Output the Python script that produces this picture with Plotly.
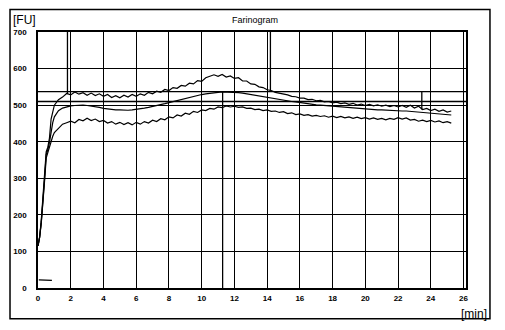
import plotly.graph_objects as go

# ---- data ----
time_min = [0, 0.1, 0.2, 0.3, 0.4, 0.5, 0.6, 0.7, 0.8, 0.9,
            1.0, 1.25, 1.5, 1.75, 2.0, 2.25, 2.5, 2.75, 3.0, 3.25, 3.5, 3.75,
            4.0, 4.25, 4.5, 4.75, 5.0, 5.25, 5.5, 5.75, 6.0, 6.25, 6.5, 6.75,
            7.0, 7.25, 7.5, 7.75, 8.0, 8.25, 8.5, 8.75, 9.0, 9.25, 9.5, 9.75,
            10.0, 10.25, 10.5, 10.75, 11.0, 11.25, 11.5, 11.75, 12.0, 12.25, 12.5, 12.75,
            13.0, 13.25, 13.5, 13.75, 14.0, 14.25, 14.5, 14.75, 15.0, 15.25, 15.5, 15.75,
            16.0, 16.25, 16.5, 16.75, 17.0, 17.25, 17.5, 17.75, 18.0, 18.25, 18.5, 18.75,
            19.0, 19.25, 19.5, 19.75, 20.0, 20.25, 20.5, 20.75, 21.0, 21.25, 21.5, 21.75,
            22.0, 22.25, 22.5, 22.75, 23.0, 23.25, 23.5, 23.75, 24.0, 24.25, 24.5, 24.75,
            25.0, 25.25]

fu_upper = [115, 140, 185, 240, 305, 372, 385, 410, 462, 485,
            500, 515, 522, 532, 528, 536, 530, 534, 527, 533, 526, 531,
            524, 529, 521, 526, 520, 527, 522, 529, 524, 531, 527, 535,
            531, 538, 535, 543, 540, 548, 546, 554, 552, 560, 558, 567,
            565, 575, 578, 583, 579, 584, 577, 580, 573, 575, 566, 566,
            558, 557, 550, 548, 542, 540, 535, 533, 529, 528, 524, 523,
            519, 519, 515, 516, 512, 513, 509, 510, 506, 508, 504, 506,
            502, 505, 500, 503, 499, 502, 498, 501, 497, 500, 496, 499,
            495, 499, 494, 500, 492, 497, 488, 491, 485, 489, 483, 487,
            481, 484]

fu_middle = [115, 140, 180, 232, 298, 365, 378, 398, 430, 452,
             468, 485, 492, 496, 498, 499, 500, 500, 499, 498, 496, 494,
             491, 489, 488, 487, 487, 486, 486, 487, 488, 490, 492, 494,
             496, 499, 501, 504, 507, 510, 513, 516, 519, 522, 525, 527,
             529, 531, 533, 534, 535, 536, 536, 536, 535, 534, 533, 531,
             529, 527, 525, 523, 521, 519, 517, 515, 513, 512, 510, 509,
             507, 506, 504, 503, 501, 500, 499, 498, 497, 496, 495, 494,
             493, 492, 491, 490, 489, 489, 488, 487, 487, 486, 486, 485,
             485, 484, 484, 483, 482, 481, 480, 479, 478, 477, 476, 475,
             474, 473]

fu_lower = [115, 138, 178, 228, 292, 355, 370, 388, 402, 415,
            425, 438, 448, 452, 456, 452, 461, 457, 464, 458, 462, 455,
            458, 451, 455, 448, 453, 447, 452, 446, 453, 448, 455, 451,
            459, 455, 463, 460, 468, 465, 473, 470, 478, 475, 483, 480,
            487, 485, 491, 489, 495, 493, 498, 495, 497, 494, 495, 491,
            492, 488, 489, 485, 487, 483, 484, 480, 482, 477, 479, 474,
            476, 472, 474, 470, 472, 469, 471, 467, 470, 466, 469, 465,
            468, 464, 467, 463, 466, 462, 465, 461, 464, 460, 464, 461,
            466, 462, 465, 459, 461, 456, 459, 455, 458, 454, 457, 452,
            455, 451]

baseline_time = [0.05, 0.85]
baseline_fu = [22, 21]

x_ticks = [0, 2, 4, 6, 8, 10, 12, 14, 16, 18, 20, 22, 24, 26]
y_ticks = [0, 100, 200, 300, 400, 500, 600, 700]

ref_levels = [537, 510]
# (time, fu_from, fu_to) of the marker lines
marker_lines = [(1.8, 530, 700), (11.28, 0, 537), (14.2, 537, 700), (23.45, 488, 537)]

# ---- figure ----
fig = go.Figure()
line_style = dict(color="black", width=1.2)
for y in (fu_upper, fu_middle, fu_lower):
    fig.add_trace(go.Scatter(x=time_min, y=y, mode="lines", line=line_style,
                             showlegend=False, hoverinfo="skip"))
fig.add_trace(go.Scatter(x=baseline_time, y=baseline_fu, mode="lines", line=line_style,
                         showlegend=False, hoverinfo="skip"))

shapes = []
for lv in ref_levels:
    shapes.append(dict(type="line", xref="paper", yref="y", x0=0, x1=1, y0=lv, y1=lv,
                       line=dict(color="black", width=1.3)))
for t, y0, y1 in marker_lines:
    shapes.append(dict(type="line", xref="x", yref="y", x0=t, x1=t, y0=y0, y1=y1,
                       line=dict(color="black", width=1.3)))
# outer frame
shapes.append(dict(type="rect", xref="paper", yref="paper",
                   x0=-0.0654, x1=1.056, y0=-0.12, y1=1.088,
                   line=dict(color="black", width=1.5)))

tick_font = dict(family="Liberation Sans", size=8, color="black", weight="bold")

fig.update_layout(
    width=505, height=330,
    margin=dict(l=38, r=39, t=32, b=42),
    paper_bgcolor="white", plot_bgcolor="white",
    shapes=shapes,
    xaxis=dict(range=[0, 26.15], tickvals=x_ticks, ticktext=[str(v) for v in x_ticks],
               showgrid=True, gridcolor="black", gridwidth=1.4,
               zeroline=False, showline=True, linecolor="black", linewidth=1.5,
               mirror=True, ticks="", tickfont=tick_font, ticklabelstandoff=2),
    yaxis=dict(range=[0, 700], tickvals=y_ticks, ticktext=[str(v) for v in y_ticks],
               showgrid=True, gridcolor="black", gridwidth=1.4,
               zeroline=False, showline=True, linecolor="black", linewidth=1.5,
               mirror=True, ticks="", tickfont=tick_font, ticklabelstandoff=8),
    annotations=[
        dict(text="Farinogram", xref="paper", yref="paper", x=0.507, y=1.046,
             xanchor="center", yanchor="middle",
             showarrow=False, font=dict(family="Liberation Sans", size=9, color="black")),
        dict(text="[FU]", xref="paper", yref="paper", x=-0.0327, y=1.046,
             xanchor="center", yanchor="middle",
             showarrow=False, font=dict(family="Liberation Sans", size=12, color="black")),
        dict(text="[min]", xref="paper", yref="paper", x=1.019, y=-0.100,
             xanchor="center", yanchor="middle",
             showarrow=False, font=dict(family="Liberation Sans", size=12, color="black")),
    ],
)

fig.write_html("out.html", config={"displayModeBar": False},
               post_script="document.body.style.margin='0';")
